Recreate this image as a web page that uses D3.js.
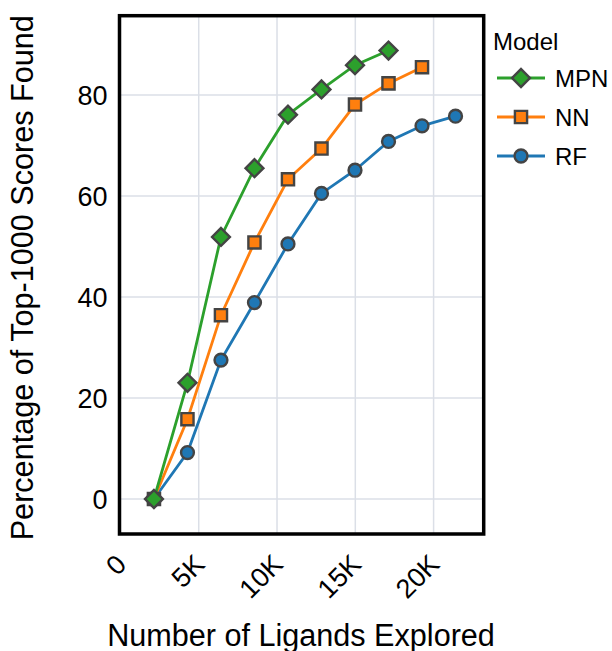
<!DOCTYPE html>
<html>
<head>
<meta charset="utf-8">
<script src="https://cdn.jsdelivr.net/npm/d3@7"></script>
<style>
  html, body { margin: 0; padding: 0; background: #fff; }
  svg { display: block; font-family: "Liberation Sans", Arial, Helvetica, sans-serif; }
</style>
</head>
<body>
<svg id="chart" width="612" height="651"></svg>
<script>
// Ligands explored after each acquisition round
const ligands = [2140, 4280, 6420, 8560, 10700, 12840, 14980, 17120, 19260, 21400];

// Percentage of top-1000 scores found, per model
const mpnValues = [0, 23.0, 51.9, 65.5, 76.1, 81.1, 85.9, 88.8];
const nnValues  = [0, 15.8, 36.4, 50.8, 63.3, 69.4, 78.1, 82.3, 85.5];
const rfValues  = [0, 9.2, 27.5, 38.9, 50.5, 60.5, 65.1, 70.8, 73.9, 75.8];

const modelNames  = ["MPN", "NN", "RF"];
const modelColors = ["#2ca02c", "#ff7f0e", "#1f77b4"];
const modelShapes = ["diamond", "square", "circle"];

const xTicks = [0, 5000, 10000, 15000, 20000];
const xTickLabels = ["0", "5K", "10K", "15K", "20K"];
const yTicks = [0, 20, 40, 60, 80];

const svg = d3.select("#chart");
const plotL = 119.5, plotR = 483.7, plotT = 15.7, plotB = 534;
const font = "Liberation Sans, Arial, Helvetica, sans-serif";

const x = d3.scaleLinear().domain([-60, 23200]).range([plotL, plotR]);
const y = d3.scaleLinear().domain([-6.93, 95.7]).range([plotB, plotT]);

const gridColor = "#dbdfe7";

// grid
const grid = svg.append("g");
grid.selectAll("line.gx").data(xTicks.filter(d => d > 0)).join("line")
  .attr("x1", d => x(d)).attr("x2", d => x(d))
  .attr("y1", plotT).attr("y2", plotB)
  .attr("stroke", gridColor).attr("stroke-width", 1.5);
grid.selectAll("line.gy").data(yTicks).join("line")
  .attr("x1", plotL).attr("x2", plotR)
  .attr("y1", d => y(d)).attr("y2", d => y(d))
  .attr("stroke", gridColor).attr("stroke-width", 1.5);

// y tick labels
const yAxis = d3.axisLeft(y).tickValues(yTicks).tickSize(0).tickPadding(12);
const gy = svg.append("g").attr("transform", `translate(${plotL},0)`).call(yAxis);
gy.select(".domain").remove();
gy.selectAll("text").attr("font-size", 27).attr("fill", "#000")
  .attr("font-family", font).attr("dy", "0.36em");

// x tick labels, rotated
const xAxis = d3.axisBottom(x).tickValues(xTicks).tickSize(0)
  .tickFormat((d, i) => xTickLabels[i]);
const gx = svg.append("g").attr("transform", `translate(0,${plotB})`).call(xAxis);
gx.select(".domain").remove();
gx.selectAll("text")
  .attr("font-size", 27).attr("fill", "#000")
  .attr("font-family", font)
  .attr("text-anchor", "end")
  .attr("dy", null).attr("y", null)
  .attr("transform", "translate(7,32) rotate(-45)");

// series
const series = [mpnValues, nnValues, rfValues].map((vals, i) => ({
  name: modelNames[i], color: modelColors[i], shape: modelShapes[i],
  points: vals.map((v, j) => ({ x: ligands[j], y: v }))
}));

const line = d3.line().x(d => x(d.x)).y(d => y(d.y));
const symbolFor = {
  diamond: d3.symbol().type(d3.symbolSquare).size(160),
  square: d3.symbol().type(d3.symbolSquare).size(148),
  circle: d3.symbol().type(d3.symbolCircle).size(130)
};
function drawMarker(sel, s) {
  sel.append("path")
    .attr("d", symbolFor[s.shape]())
    .attr("transform", s.shape === "diamond" ? "rotate(45)" : null)
    .attr("fill", s.color)
    .attr("stroke", "#444")
    .attr("stroke-width", 2.4);
}

// draw in reverse so MPN sits on top
[...series].reverse().forEach(s => {
  const g = svg.append("g");
  g.append("path").datum(s.points)
    .attr("d", line).attr("fill", "none")
    .attr("stroke", s.color).attr("stroke-width", 2.8);
  g.selectAll("g.m").data(s.points).join("g")
    .attr("transform", d => `translate(${x(d.x)},${y(d.y)})`)
    .each(function () { drawMarker(d3.select(this), s); });
});

// frame
svg.append("rect")
  .attr("x", plotL).attr("y", plotT)
  .attr("width", plotR - plotL).attr("height", plotB - plotT)
  .attr("fill", "none").attr("stroke", "#000").attr("stroke-width", 3.5);

// axis titles
svg.append("text")
  .attr("transform", "translate(33,277.8) rotate(-90)")
  .attr("text-anchor", "middle").attr("font-size", 30.6).attr("fill", "#000")
  .attr("font-family", font)
  .text("Percentage of Top-1000 Scores Found");
svg.append("text")
  .attr("x", 301).attr("y", 646)
  .attr("text-anchor", "middle").attr("font-size", 30.6).attr("fill", "#000")
  .attr("font-family", font)
  .text("Number of Ligands Explored");

// legend
const legend = svg.append("g").attr("font-family", font);
legend.append("text").attr("x", 493).attr("y", 50)
  .attr("font-size", 24).attr("fill", "#000").text("Model");
const legendY = [78, 117, 156];
series.forEach((s, i) => {
  const g = legend.append("g").attr("transform", `translate(0,${legendY[i]})`);
  g.append("line").attr("x1", 497).attr("x2", 545).attr("y1", 0).attr("y2", 0)
    .attr("stroke", s.color).attr("stroke-width", 2.8);
  const m = g.append("g").attr("transform", "translate(521,0)");
  drawMarker(m, s);
  g.append("text").attr("x", 555).attr("y", 0).attr("dy", "0.36em")
    .attr("font-size", 24).attr("fill", "#000").text(s.name);
});
</script>
</body>
</html>
